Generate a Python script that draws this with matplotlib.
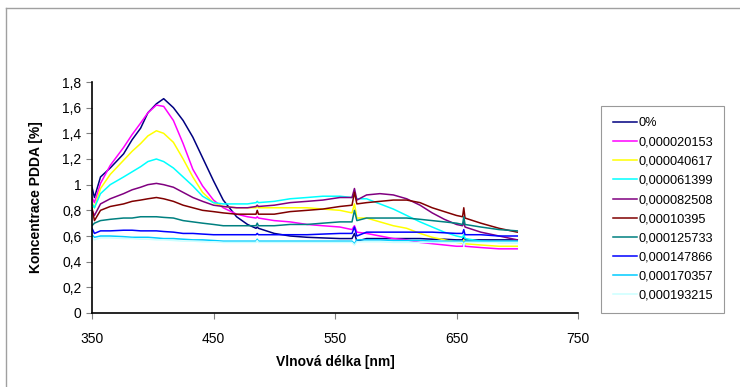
import matplotlib
matplotlib.use("Agg")
import matplotlib.pyplot as plt
from matplotlib.lines import Line2D

plt.rcParams['font.family'] = ['Liberation Sans', 'DejaVu Sans']

# wavelength grid [nm]
wl = [350, 352, 357, 365, 376, 383, 390, 396, 403, 409, 417, 425, 433, 441, 450,
      458, 469, 478, 485, 486, 487, 500, 513, 527, 540, 554, 564, 566, 568, 576,
      587, 598, 609, 620, 630, 640, 650, 655, 656, 657, 670, 685, 700]

labels = ['0%', '0,000020153', '0,000040617', '0,000061399', '0,000082508',
          '0,00010395', '0,000125733', '0,000147866', '0,000170357', '0,000193215']

s0 = [0.98, 0.90, 1.06, 1.13, 1.24, 1.35, 1.44, 1.56, 1.63, 1.67, 1.60, 1.50, 1.37, 1.21, 1.03,
      0.88, 0.75, 0.69, 0.66, 0.67, 0.66, 0.62, 0.60, 0.59, 0.585, 0.58, 0.58, 0.62, 0.56, 0.58,
      0.58, 0.58, 0.58, 0.58, 0.575, 0.575, 0.57, 0.57, 0.60, 0.57, 0.57, 0.57, 0.57]
s1 = [0.90, 0.86, 1.01, 1.15, 1.29, 1.39, 1.48, 1.56, 1.62, 1.61, 1.50, 1.32, 1.12, 0.99, 0.88,
      0.82, 0.77, 0.75, 0.74, 0.75, 0.74, 0.72, 0.71, 0.69, 0.68, 0.67, 0.65, 0.68, 0.63, 0.62,
      0.60, 0.58, 0.57, 0.55, 0.54, 0.53, 0.52, 0.52, 0.55, 0.52, 0.51, 0.50, 0.50]
s2 = [0.86, 0.82, 0.97, 1.08, 1.19, 1.26, 1.32, 1.38, 1.42, 1.40, 1.33, 1.20, 1.06, 0.94, 0.86,
      0.83, 0.82, 0.82, 0.82, 0.83, 0.82, 0.82, 0.82, 0.82, 0.81, 0.80, 0.78, 0.85, 0.74, 0.74,
      0.71, 0.68, 0.66, 0.62, 0.59, 0.57, 0.55, 0.545, 0.57, 0.54, 0.53, 0.52, 0.52]
s3 = [0.85, 0.82, 0.93, 1.00, 1.06, 1.10, 1.14, 1.18, 1.20, 1.18, 1.13, 1.06, 0.99, 0.91, 0.86,
      0.85, 0.85, 0.85, 0.86, 0.87, 0.86, 0.87, 0.89, 0.90, 0.91, 0.91, 0.90, 0.93, 0.89, 0.89,
      0.85, 0.81, 0.76, 0.71, 0.67, 0.63, 0.60, 0.59, 0.61, 0.58, 0.56, 0.55, 0.55]
s4 = [0.80, 0.76, 0.85, 0.89, 0.93, 0.96, 0.98, 1.00, 1.01, 1.00, 0.98, 0.94, 0.90, 0.87, 0.84,
      0.83, 0.82, 0.82, 0.83, 0.84, 0.83, 0.84, 0.86, 0.87, 0.88, 0.90, 0.90, 0.97, 0.88, 0.92,
      0.93, 0.92, 0.89, 0.84, 0.78, 0.73, 0.69, 0.68, 0.71, 0.67, 0.63, 0.60, 0.57]
s5 = [0.82, 0.72, 0.80, 0.83, 0.85, 0.87, 0.88, 0.89, 0.90, 0.89, 0.87, 0.84, 0.82, 0.80, 0.79,
      0.78, 0.77, 0.77, 0.77, 0.80, 0.77, 0.77, 0.79, 0.80, 0.81, 0.83, 0.84, 0.94, 0.85, 0.86,
      0.87, 0.88, 0.88, 0.86, 0.82, 0.79, 0.76, 0.75, 0.82, 0.74, 0.70, 0.66, 0.63]
s6 = [0.68, 0.70, 0.72, 0.73, 0.74, 0.74, 0.75, 0.75, 0.75, 0.745, 0.74, 0.72, 0.71, 0.70, 0.69,
      0.68, 0.68, 0.68, 0.68, 0.70, 0.68, 0.68, 0.69, 0.69, 0.70, 0.71, 0.71, 0.80, 0.72, 0.74,
      0.74, 0.74, 0.74, 0.73, 0.72, 0.71, 0.70, 0.69, 0.75, 0.69, 0.67, 0.65, 0.64]
s7 = [0.66, 0.62, 0.64, 0.64, 0.645, 0.645, 0.64, 0.64, 0.64, 0.635, 0.63, 0.62, 0.62, 0.615, 0.61,
      0.61, 0.61, 0.61, 0.61, 0.62, 0.61, 0.61, 0.61, 0.61, 0.615, 0.62, 0.62, 0.67, 0.60, 0.63,
      0.63, 0.63, 0.63, 0.63, 0.63, 0.625, 0.62, 0.62, 0.65, 0.61, 0.61, 0.60, 0.60]
s8 = [0.61, 0.59, 0.60, 0.60, 0.595, 0.59, 0.59, 0.59, 0.585, 0.58, 0.58, 0.575, 0.57, 0.57, 0.565,
      0.56, 0.56, 0.56, 0.56, 0.575, 0.56, 0.56, 0.56, 0.56, 0.56, 0.56, 0.56, 0.54, 0.57, 0.57,
      0.57, 0.565, 0.565, 0.565, 0.56, 0.56, 0.56, 0.56, 0.53, 0.56, 0.56, 0.56, 0.56]
s9 = [0.59, 0.57, 0.585, 0.585, 0.58, 0.58, 0.575, 0.575, 0.57, 0.57, 0.565, 0.56, 0.56, 0.555, 0.555,
      0.55, 0.55, 0.55, 0.55, 0.565, 0.55, 0.55, 0.55, 0.55, 0.55, 0.55, 0.55, 0.53, 0.555, 0.555,
      0.555, 0.55, 0.55, 0.55, 0.55, 0.55, 0.55, 0.55, 0.52, 0.55, 0.55, 0.55, 0.55]
series = [s0, s1, s2, s3, s4, s5, s6, s7, s8, s9]

colors = ['#000080', '#FF00FF', '#FFFF00', '#00FFFF', '#800080',
          '#800000', '#008080', '#0000FF', '#00CCFF', '#CCFFFF']

yticks = [0, 0.2, 0.4, 0.6, 0.8, 1, 1.2, 1.4, 1.6, 1.8]
xticks = [350, 450, 550, 650, 750]

fig = plt.figure(figsize=(7.4, 3.87), dpi=100)
ax = fig.add_axes([92 / 740, 74 / 387, 486 / 740, 231 / 387])

for ys, c, lab in zip(series, colors, labels):
    ax.plot(wl, ys, color=c, lw=1.1, label=lab)

ax.set_xlim(350, 750)
ax.set_ylim(0, 1.8)
ax.set_xticks(xticks)
ax.set_xticklabels([str(t) for t in xticks])
ax.set_yticks(yticks)
ax.set_yticklabels([('%g' % t).replace('.', ',') for t in yticks])
ax.tick_params(labelsize=10, direction='out', length=4, color='#808080')
ax.tick_params(axis='x', pad=10)
for s in ['top', 'right']:
    ax.spines[s].set_visible(False)
for s in ['left', 'bottom']:
    ax.spines[s].set_linewidth(1.2)
ax.set_xlabel('Vlnová délka [nm]', fontsize=10, fontweight='bold', labelpad=6)
ax.set_ylabel('Koncentrace PDDA [%]', fontsize=10, fontweight='bold', labelpad=14)

leg = fig.legend(loc='upper left', bbox_to_anchor=(601 / 740, 1 - 106 / 387),
                 fontsize=9.2, frameon=True, fancybox=False, handlelength=1.9,
                 handletextpad=0.1, labelspacing=0.56, borderpad=0.9,
                 borderaxespad=0)
leg.get_frame().set_edgecolor('#808080')
leg.get_frame().set_linewidth(0.8)

# outer chart frame
fig.add_artist(Line2D([6 / 740, 1], [1 - 8 / 387, 1 - 8 / 387], color='#A0A0A0', lw=1))
fig.add_artist(Line2D([6 / 740, 6 / 740], [0, 1 - 8 / 387], color='#A0A0A0', lw=1))

fig.savefig('out.png', dpi=100)
